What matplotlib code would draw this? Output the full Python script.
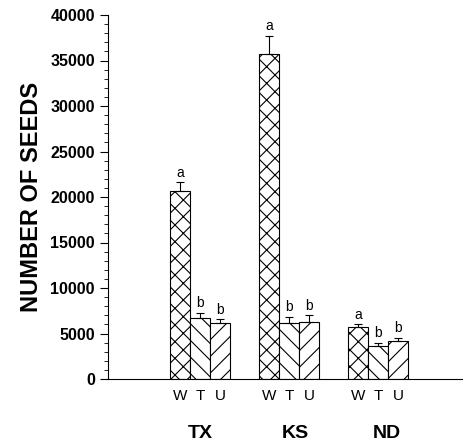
import matplotlib
matplotlib.use("Agg")
import matplotlib.pyplot as plt
import numpy as np
from matplotlib.ticker import MultipleLocator

plt.rcParams['font.family'] = ['Liberation Sans', 'DejaVu Sans']
plt.rcParams['hatch.linewidth'] = 0.8

sites = ["TX", "KS", "ND"]
treatments = ["W", "T", "U"]
means = {
    "W": [20700, 35700, 5750],
    "T": [6650, 6200, 3600],
    "U": [6100, 6300, 4200],
}
errors = {
    "W": [900, 2000, 250],
    "T": [650, 600, 400],
    "U": [450, 700, 300],
}
letters = {
    "W": ["a", "a", "a"],
    "T": ["b", "b", "b"],
    "U": ["b", "b", "b"],
}
hatches = {"W": "xx", "T": "\\\\", "U": "//"}
site_label_shift = [0.0, 0.07, 0.1]

fig = plt.figure(figsize=(4.63, 4.47), dpi=100)
ax = fig.add_axes([108/463, 1-379/447, 1-108/463, (379-15)/447])

w = 0.225
x = np.arange(len(sites))
offsets = {"W": -w, "T": 0.0, "U": w}
for t in treatments:
    xs = x + offsets[t]
    ax.bar(xs, means[t], width=w, color="white", edgecolor="black",
           hatch=hatches[t], linewidth=0.8, zorder=2)
    ax.errorbar(xs, means[t], yerr=[np.zeros(3), errors[t]], fmt="none",
                ecolor="black", elinewidth=0.8, capsize=3, capthick=0.8, zorder=3)
    for xi, m, e, l in zip(xs, means[t], errors[t], letters[t]):
        ax.text(xi, m + e + 300, l, ha="center", va="bottom", fontsize=10)

ax.set_xlim(-1.034, 2.955)
ax.set_ylim(0, 40000)
ax.yaxis.set_major_locator(MultipleLocator(5000))
ax.yaxis.set_minor_locator(MultipleLocator(1000))
ax.tick_params(axis="y", which="major", length=6, width=0.8, labelsize=11.5)
ax.tick_params(axis="y", which="minor", length=3, width=0.6)
for lab in ax.get_yticklabels():
    lab.set_fontweight("bold")

tick_x = np.concatenate([x + offsets[t] for t in treatments])
tick_l = [t for t in treatments for _ in sites]
ax.set_xticks(tick_x)
ax.set_xticklabels(tick_l, fontsize=11)
ax.tick_params(axis="x", length=0, pad=7)

for xi, s, sh in zip(x, sites, site_label_shift):
    ax.text(xi + sh, -0.15, s, transform=ax.get_xaxis_transform(), ha="center",
            va="center", fontsize=14, fontweight="bold")

ax.spines["top"].set_visible(False)
ax.spines["right"].set_visible(False)
ax.spines["left"].set_linewidth(0.8)
ax.spines["bottom"].set_linewidth(0.8)

ax.set_ylabel("NUMBER OF SEEDS", fontsize=17, fontweight="bold", labelpad=5)

fig.savefig("out.png", dpi=100)
